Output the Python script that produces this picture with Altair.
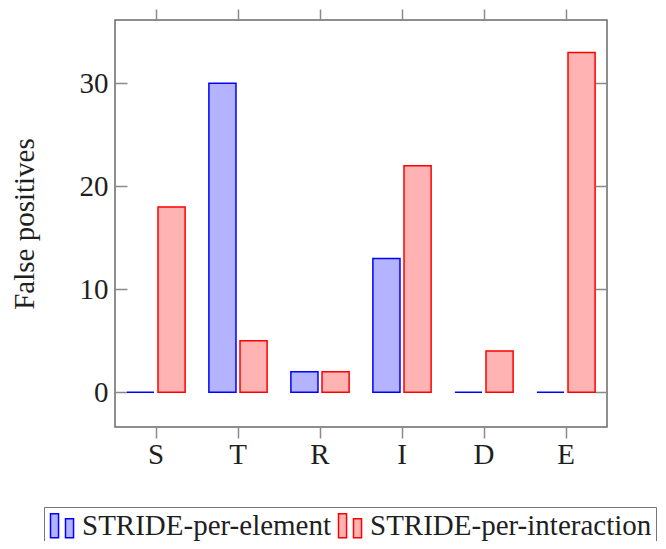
import altair as alt
import pandas as pd

categories = ["S", "T", "R", "I", "D", "E"]
series = ["STRIDE-per-element", "STRIDE-per-interaction"]
per_element = [0, 30, 2, 13, 0, 0]
per_interaction = [18, 5, 2, 22, 4, 33]
y_ticks = [0, 10, 20, 30]

rows = []
for c, a, b in zip(categories, per_element, per_interaction):
    rows.append({"cat": c, "series": series[0], "value": a})
    rows.append({"cat": c, "series": series[1], "value": b})
df = pd.DataFrame(rows)

FONT = "'Liberation Serif', 'Times New Roman', 'DejaVu Serif', serif"
FS = 29
TXT = "#1f1f1f"
TICK = "#8a8a8a"

yscale = alt.Scale(domain=[-3.37, 36.15], nice=False, zero=False)
xscale = alt.Scale(paddingInner=0.29, paddingOuter=0.145)

legend = alt.Legend(
    title=None, orient="none", direction="horizontal",
    legendX=-71, legendY=487,
    symbolType="M-1,-1H-0.33V1H-1Z M0.25,-0.58H0.92V1H0.25Z",
    symbolSize=576, symbolStrokeWidth=1.5,
    labelFont=FONT, labelFontSize=FS, labelColor=TXT, labelLimit=500,
    labelOffset=5, columnPadding=3, padding=4,
    strokeColor="#777777", fillColor="white",
)

bars = alt.Chart(df).mark_bar(strokeWidth=1.5).encode(
    x=alt.X("cat:N", sort=categories, scale=xscale, title=None,
            axis=alt.Axis(orient="bottom", labelAngle=0, tickSize=11, tickWidth=1.5,
                          tickColor=TICK, domain=False, labelPadding=2,
                          labelFont=FONT, labelFontSize=FS, labelColor=TXT)),
    xOffset=alt.XOffset("series:N", sort=series, scale=alt.Scale(paddingInner=0.129, paddingOuter=0)),
    y=alt.Y("value:Q", scale=yscale, title="False positives",
            axis=alt.Axis(orient="left", values=y_ticks, tickSize=12, tickWidth=1.5,
                          tickColor=TICK, offset=-12, domain=False, grid=False,
                          labelPadding=7, labelFont=FONT, labelFontSize=FS, labelColor=TXT,
                          titleFont=FONT, titleFontSize=FS, titleColor=TXT,
                          titleFontWeight="normal", titlePadding=40)),
    y2=alt.Y2(datum=0),
    color=alt.Color("series:N", sort=series,
                    scale=alt.Scale(domain=series, range=["#b3b3ff", "#ffb3b3"]),
                    legend=legend),
    stroke=alt.Stroke("series:N", sort=series,
                      scale=alt.Scale(domain=series, range=["#0000ff", "#ff0000"]),
                      legend=legend),
)

frame_axes = alt.Chart(df).mark_point(opacity=0).encode(
    x=alt.X("cat:N", sort=categories, scale=xscale, title=None,
            axis=alt.Axis(orient="top", labels=False, tickSize=11, tickWidth=1.5,
                          tickColor=TICK, domain=False)),
    y=alt.Y("value:Q", scale=yscale, title=None,
            axis=alt.Axis(orient="right", values=y_ticks, labels=False, tickSize=12,
                          tickWidth=1.5, tickColor=TICK, offset=-12, domain=False, grid=False)),
)

chart = alt.layer(bars, frame_axes).resolve_axis(x="independent", y="independent").properties(
    width=492, height=407,
    autosize=alt.AutoSizeParams(type="none"),
    padding={"left": 107, "top": 12, "right": 51, "bottom": 114},
).configure_view(stroke="#6a6a6a", strokeWidth=1.5).configure_axis(grid=False)

chart.save("out.html", embed_options={"renderer": "svg", "actions": False})
